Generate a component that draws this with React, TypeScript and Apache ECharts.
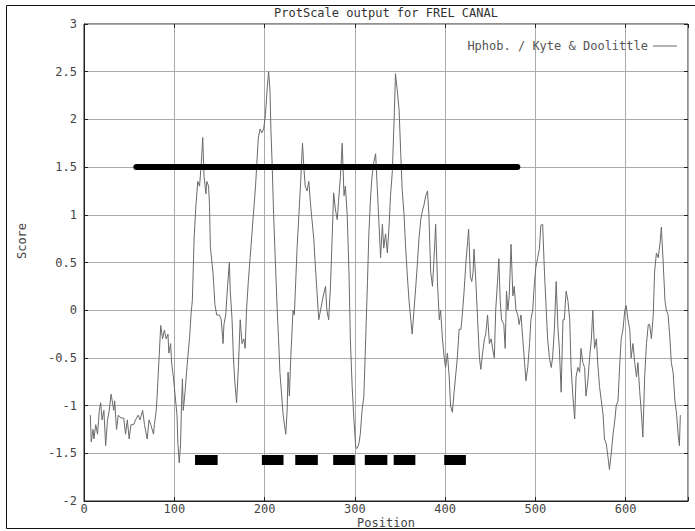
import React, { useEffect, useRef } from "react";
import * as echarts from "echarts";

const chartTitle = "ProtScale output for FREL CANAL";
const seriesName = "Hphob. / Kyte & Doolittle";
const xAxisTitle = "Position";
const yAxisTitle = "Score";
const xTicks = [0, 100, 200, 300, 400, 500, 600];

const positions = [
  7, 8, 10, 11, 13, 15, 17, 18.5, 20, 22, 24, 26, 28, 30, 33, 34, 36, 38, 41, 44, 46, 48, 50, 52, 55, 57, 60, 62, 65, 67,
  70, 72, 74, 77, 78, 80, 81, 83, 85, 87, 89, 91, 93, 94, 96, 97, 99, 101, 103, 104, 105.5, 107, 108, 109, 110, 112, 114, 117, 118.5, 120,
  122, 124, 126, 128, 130, 131.5, 133, 135, 136, 138, 139, 140, 143, 145, 147, 150, 152, 154, 155, 157, 159, 161, 162, 164, 165.5, 167, 169, 171, 173, 175,
  177, 178.5, 180, 182, 184, 186, 188, 190, 191.5, 193, 195, 197, 199, 201, 203, 204.5, 206, 207, 208.5, 210, 212, 214, 215.5, 217, 219, 220.5, 222, 223.5, 225, 226,
  227.5, 229, 231.5, 233, 234.5, 236, 238, 240, 242, 243.5, 245, 247, 249, 251, 252.5, 254.5, 256, 258, 260, 262, 264, 265.5, 267.5, 269, 271, 273, 275, 276.5, 278.5, 280.5,
  282, 284, 286, 288, 289.5, 291.5, 293.5, 295, 297, 299, 301, 302.5, 304.5, 306, 308, 310, 312, 314, 315.5, 317.5, 319, 321, 323, 325, 326.5, 328.5, 330.5, 332, 334, 336,
  338, 339.5, 341.5, 343.5, 345, 347, 349, 351, 352.5, 354.5, 356, 358, 360, 362, 363.5, 365.5, 367.5, 369, 371, 373, 375, 376.5, 378.5, 380.5, 382, 384, 386, 388, 389.5, 391.5,
  393.5, 395, 397, 399, 400.5, 402.5, 404.5, 406, 408, 410, 412, 413.5, 415.5, 417.5, 419, 421, 423, 425, 426, 428, 429.5, 431, 432, 434, 436, 438, 439.5, 441.5, 443.5, 445,
  447, 449, 451, 452.5, 454.5, 456, 458, 459.5, 461, 462.5, 465, 466.5, 468, 469.5, 471, 473, 475, 476.5, 478.5, 480.5, 482, 484, 486, 488, 489.5, 491.5, 493.5, 495, 497, 499,
  500.5, 502.5, 504.5, 506, 508, 510, 512, 513.5, 515.5, 517.5, 519, 521, 523, 525, 526.5, 528.5, 530.5, 532, 534, 536, 538, 539.5, 541.5, 543.5, 545, 547, 549, 550.5, 552.5, 554.5,
  556, 558, 560, 562, 563.5, 565.5, 567.5, 569, 571, 573, 575, 576.5, 578.5, 580.5, 582, 584, 586, 588, 589.5, 591.5, 593.5, 595, 597, 599, 600.5, 602.5, 604.5, 606, 608, 610,
  612, 613.5, 615.5, 617.5, 619, 621, 623, 625, 626.5, 628.5, 630.5, 632, 634, 636, 638, 639.5, 641.5, 643.5, 645, 647, 649, 650.5, 652.5, 654.5, 656.5, 658, 659.5, 660.5,
];

const scores = [
  -1.1, -1.38, -1.25, -1.35, -1.2, -1.3, -1.05, -0.97, -1.15, -1.05, -1.42, -1.15, -1.05, -0.88, -1.05, -0.95, -1.25, -1.1, -1.13, -1.13, -1.3, -1.15, -1.35, -1.2, -1.2, -1.15, -1.1, -1.15, -1.05, -1.2,
  -1.35, -1.15, -1.2, -1.3, -1.2, -1.05, -0.9, -0.53, -0.16, -0.3, -0.21, -0.3, -0.25, -0.45, -0.35, -0.55, -0.7, -0.9, -1.1, -1.4, -1.6, -1.4, -1.0, -0.72, -1.05, -0.85, -0.6, -0.28, -0.05, 0.1,
  0.76, 1.1, 1.35, 1.3, 1.55, 1.81, 1.4, 1.22, 1.35, 1.3, 1.1, 0.66, 0.38, 0.06, -0.05, -0.05, -0.1, -0.35, -0.15, -0.05, 0.25, 0.5, 0.2, -0.1, -0.5, -0.74, -0.97, -0.6, -0.1, -0.35,
  -0.3, -0.4, 0.0, 0.3, 0.55, 0.8, 1.05, 1.3, 1.55, 1.8, 1.9, 1.86, 1.9, 2.05, 2.34, 2.5, 2.3, 1.9, 1.5, 1.0, 0.5, 0.0, -0.3, -0.65, -0.9, -1.09, -1.2, -1.3, -1.05, -0.65,
  -0.9, -0.5, 0.0, -0.05, 0.3, 0.65, 1.0, 1.35, 1.75, 1.5, 1.3, 1.25, 1.35, 1.1, 0.95, 0.75, 0.5, 0.2, -0.1, 0.0, 0.1, 0.17, 0.25, 0.0, -0.1, 0.25, 0.8, 1.23, 1.05, 0.95,
  1.15, 1.4, 1.75, 1.2, 1.3, 1.0, 0.4, -0.3, -0.8, -1.15, -1.44, -1.45, -1.4, -1.3, -1.05, -0.9, -0.3, 0.3, 0.8, 1.2, 1.4, 1.55, 1.64, 1.25, 0.95, 0.55, 0.9, 0.65, 0.8, 0.6,
  0.9, 1.2, 1.45, 2.0, 2.48, 2.3, 2.1, 1.6, 1.25, 1.0, 0.7, 0.38, 0.1, -0.1, -0.25, 0.0, 0.25, 0.45, 0.75, 0.95, 1.05, 1.1, 1.2, 1.25, 1.0, 0.4, 0.25, 0.6, 0.9, 0.3,
  -0.1, 0.0, -0.3, -0.5, -0.6, -0.45, -0.7, -1.0, -1.07, -0.85, -0.65, -0.5, -0.2, -0.2, -0.05, 0.2, 0.5, 0.73, 0.85, 0.35, 0.3, 0.4, 0.64, 0.3, -0.1, -0.5, -0.62, -0.45, -0.3, -0.25,
  -0.05, -0.35, -0.3, -0.4, -0.5, 0.0, 0.3, 0.54, 0.1, -0.1, -0.15, -0.4, 0.2, 0.0, 0.15, 0.69, 0.15, 0.25, 0.0, -0.05, -0.15, -0.05, -0.3, -0.55, -0.74, -0.6, -0.35, -0.1, 0.0, 0.3,
  0.45, 0.55, 0.65, 0.89, 0.9, 0.4, 0.0, -0.3, -0.5, -0.6, -0.5, -0.2, 0.3, -0.2, -0.4, -0.86, -0.1, -0.1, 0.2, 0.1, -0.1, -0.6, -0.9, -1.14, -0.7, -0.6, -0.65, -0.4, -0.55, -0.6,
  -0.9, -0.75, -0.5, -0.3, 0.0, -0.4, -0.3, -0.55, -0.8, -0.95, -1.1, -1.35, -1.4, -1.55, -1.67, -1.5, -1.3, -1.15, -1.0, -0.95, -0.55, -0.3, -0.2, 0.0, 0.05, -0.1, -0.2, -0.5, -0.35, -0.55,
  -0.7, -0.55, -0.85, -1.1, -1.33, -0.7, -0.35, -0.15, -0.15, -0.3, -0.05, 0.4, 0.6, 0.55, 0.7, 0.87, 0.5, 0.1, 0.0, -0.05, -0.3, -0.55, -0.65, -0.95, -1.1, -1.3, -1.42, -1.1,
];

const cutoffStart = 58;
const cutoffEnd = 480;
const cutoffValue = 1.5;

const segStarts = [123, 197, 234, 276, 311, 343, 399];
const segEnds = [148, 221, 259, 300, 336, 367, 423];
const segLevel = -1.57;

const MONO = "'DejaVu Sans Mono', 'Liberation Mono', monospace";

export default function App() {
  const ref = useRef<HTMLDivElement>(null);

  useEffect(() => {
    if (!ref.current) return;
    const chart = echarts.init(ref.current, undefined, { renderer: "svg" });
    const profile = positions.map((p, i) => [p, scores[i]]);
    const segs = segStarts.map((s, i) => [s, segEnds[i], segLevel]);

    chart.setOption({
      animation: false,
      backgroundColor: "#ffffff",
      textStyle: { fontFamily: MONO },
      grid: {
        left: 84,
        right: 7,
        top: 24,
        bottom: 30,
        show: true,
        borderColor: "#222",
        borderWidth: 1,
        backgroundColor: "transparent",
        containLabel: false,
        outerBoundsMode: "none",
      },
      legend: {
        data: [{ name: seriesName, icon: "rect" }],
        right: 13,
        top: 35,
        align: "right",
        itemWidth: 24,
        itemHeight: 1,
        textStyle: { fontFamily: MONO, fontSize: 12, color: "#555" },
        selectedMode: false,
      },
      graphic: [
        {
          type: "rect",
          silent: true,
          shape: { x: 6.5, y: 5.5, width: 700, height: 523 },
          style: { fill: "none", stroke: "#111", lineWidth: 1 },
        },
        {
          type: "text",
          x: 386,
          y: 13,
          style: {
            text: chartTitle,
            font: `12px ${MONO}`,
            fill: "#333",
            align: "center",
            verticalAlign: "middle",
          },
        },
        {
          type: "text",
          x: 386,
          y: 523,
          style: {
            text: xAxisTitle,
            font: `12px ${MONO}`,
            fill: "#444",
            align: "center",
            verticalAlign: "middle",
          },
        },
        {
          type: "text",
          x: 22,
          y: 241,
          rotation: Math.PI / 2,
          style: {
            text: yAxisTitle,
            font: `12px ${MONO}`,
            fill: "#444",
            align: "center",
            verticalAlign: "middle",
          },
        },
      ],
      xAxis: [
        {
          type: "value",
          min: 0,
          max: 669,
          interval: 100,
          axisLine: { show: true, onZero: false, lineStyle: { color: "#222" } },
          axisTick: { show: true, inside: true, length: 4, lineStyle: { color: "#222" } },
          axisLabel: {
            fontFamily: MONO,
            fontSize: 12,
            color: "#444",
            margin: 2,
            formatter: (v: number) => (xTicks.includes(v) ? String(v) : ""),
          },
          splitLine: { show: true, lineStyle: { color: "#aaa", width: 1 } },
        },
        {
          type: "value",
          position: "top",
          min: 0,
          max: 669,
          interval: 100,
          axisLine: { show: false, onZero: false },
          axisTick: { show: true, inside: true, length: 4, lineStyle: { color: "#222" } },
          axisLabel: { show: false },
          splitLine: { show: false },
        },
      ],
      yAxis: [
        {
          type: "value",
          min: -2,
          max: 3,
          interval: 0.5,
          axisLine: { show: true, onZero: false, lineStyle: { color: "#222" } },
          axisTick: { show: true, inside: true, length: 4, lineStyle: { color: "#222" } },
          axisLabel: { fontFamily: MONO, fontSize: 12, color: "#444", margin: 7 },
          splitLine: { show: true, lineStyle: { color: "#aaa", width: 1 } },
        },
        {
          type: "value",
          position: "right",
          min: -2,
          max: 3,
          interval: 0.5,
          axisLine: { show: false, onZero: false },
          axisTick: { show: true, inside: true, length: 4, lineStyle: { color: "#222" } },
          axisLabel: { show: false },
          splitLine: { show: false },
        },
      ],
      series: [
        {
          name: seriesName,
          type: "line",
          data: profile,
          showSymbol: false,
          symbol: "none",
          itemStyle: { color: "#666" },
          lineStyle: { color: "#6a6a6a", width: 1 },
          z: 3,
        },
        {
          name: "cutoff",
          type: "line",
          data: [
            [cutoffStart, cutoffValue],
            [cutoffEnd, cutoffValue],
          ],
          symbol: "none",
          silent: true,
          lineStyle: { color: "#000", width: 6, cap: "round" },
          z: 4,
        },
        {
          name: "segments",
          type: "custom",
          data: segs,
          encode: { x: [0, 1], y: 2 },
          silent: true,
          z: 4,
          renderItem: (params: any, api: any) => {
            const a = api.coord([api.value(0), api.value(2)]);
            const b = api.coord([api.value(1), api.value(2)]);
            return {
              type: "rect",
              shape: { x: a[0], y: a[1] - 5, width: b[0] - a[0], height: 10 },
              style: { fill: "#000" },
            };
          },
        },
      ],
    });

    return () => chart.dispose();
  }, []);

  return (
    <div
      ref={ref}
      style={{ position: "fixed", left: 0, top: 0, width: 695, height: 531, background: "#fff" }}
    />
  );
}
